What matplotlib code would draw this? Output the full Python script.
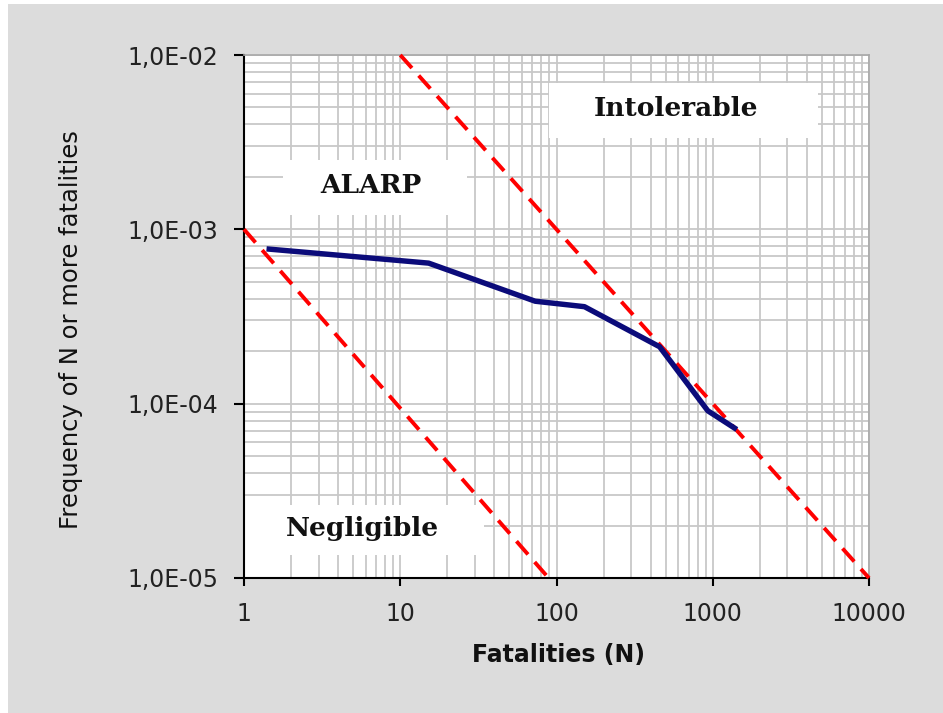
import matplotlib
matplotlib.use('Agg')
import matplotlib.pyplot as plt
from matplotlib.patches import Rectangle

# F-N curve data
fatalities = [1.45, 15.2, 73, 151, 457, 930, 1377]
frequency = [7.7e-4, 6.4e-4, 3.87e-4, 3.6e-4, 2.12e-4, 9.1e-5, 7.25e-5]

# criterion lines
upper_x = [10, 10000]
upper_y = [1e-2, 1e-5]
lower_x = [1, 89]
lower_y = [1e-3, 1e-5]

x_ticks = [1, 10, 100, 1000, 10000]
x_labels = ['1', '10', '100', '1000', '10000']
y_ticks = [1e-5, 1e-4, 1e-3, 1e-2]
y_labels = ['1,0E-05', '1,0E-04', '1,0E-03', '1,0E-02']

regions = ['Intolerable', 'ALARP', 'Negligible']

fig = plt.figure(figsize=(9.43, 7.13), dpi=100)
fig.patch.set_facecolor('white')
fig.patches.append(Rectangle((8 / 943, 0), 1, 1 - 4 / 713, transform=fig.transFigure,
                             facecolor='#dcdcdc', edgecolor='none', zorder=-10))

ax = fig.add_axes([244 / 943, 1 - 578 / 713, 625 / 943, 523 / 713])
ax.set_facecolor('white')
ax.set_xscale('log')
ax.set_yscale('log')
ax.set_xlim(1, 10000)
ax.set_ylim(1e-5, 1e-2)
ax.set_axisbelow(True)
ax.grid(which='both', color='#c8c8c8', lw=1.3)

ax.plot(upper_x, upper_y, color='#ff0000', lw=2.8, dashes=(4.5, 2.6), zorder=3, clip_on=False)
ax.plot(lower_x, lower_y, color='#ff0000', lw=2.8, dashes=(4.5, 2.6), zorder=3, clip_on=False)
ax.plot(fatalities, frequency, color='#0b0b7a', lw=3.9, solid_joinstyle='round', zorder=4)

# white label boxes hiding the grid
boxes = [(0.488, 0.841, 0.43, 0.105), (0.062, 0.694, 0.295, 0.105), (0.0, 0.044, 0.384, 0.096)]
centres = [(0.691, 0.897), (0.2032, 0.751), (0.19, 0.0956)]
for name, (bx, by, bw, bh), (cx, cy) in zip(regions, boxes, centres):
    ax.add_patch(Rectangle((bx, by), bw, bh, transform=ax.transAxes,
                           facecolor='white', edgecolor='none', zorder=1))
    ax.text(cx, cy, name, transform=ax.transAxes, ha='center', va='center',
            family='DejaVu Serif', fontweight='bold', fontsize=19, color='#111111', zorder=5)

ax.set_xticks(x_ticks)
ax.set_xticklabels(x_labels)
ax.set_yticks(y_ticks)
ax.set_yticklabels(y_labels)
ax.tick_params(which='minor', length=0)
ax.tick_params(axis='x', which='major', length=6, width=1.5, pad=11, labelsize=17, labelcolor='#222222')
ax.tick_params(axis='y', which='major', length=7.5, width=1.5, pad=11, labelsize=17, labelcolor='#222222')

for s in ['left', 'bottom']:
    ax.spines[s].set_color('black')
    ax.spines[s].set_linewidth(1.5)
for s in ['top', 'right']:
    ax.spines[s].set_color('#a8a8a8')
    ax.spines[s].set_linewidth(1.2)

ax.set_xlabel('Fatalities (N)', fontsize=17, fontweight='bold', color='#111111')
ax.xaxis.set_label_coords(0.504, -0.125)
ax.set_ylabel('Frequency of N or more fatalities', fontsize=17.5, color='#111111')
ax.yaxis.set_label_coords(-0.258, 0.475)

fig.savefig('out.png', dpi=100, facecolor=fig.get_facecolor())
